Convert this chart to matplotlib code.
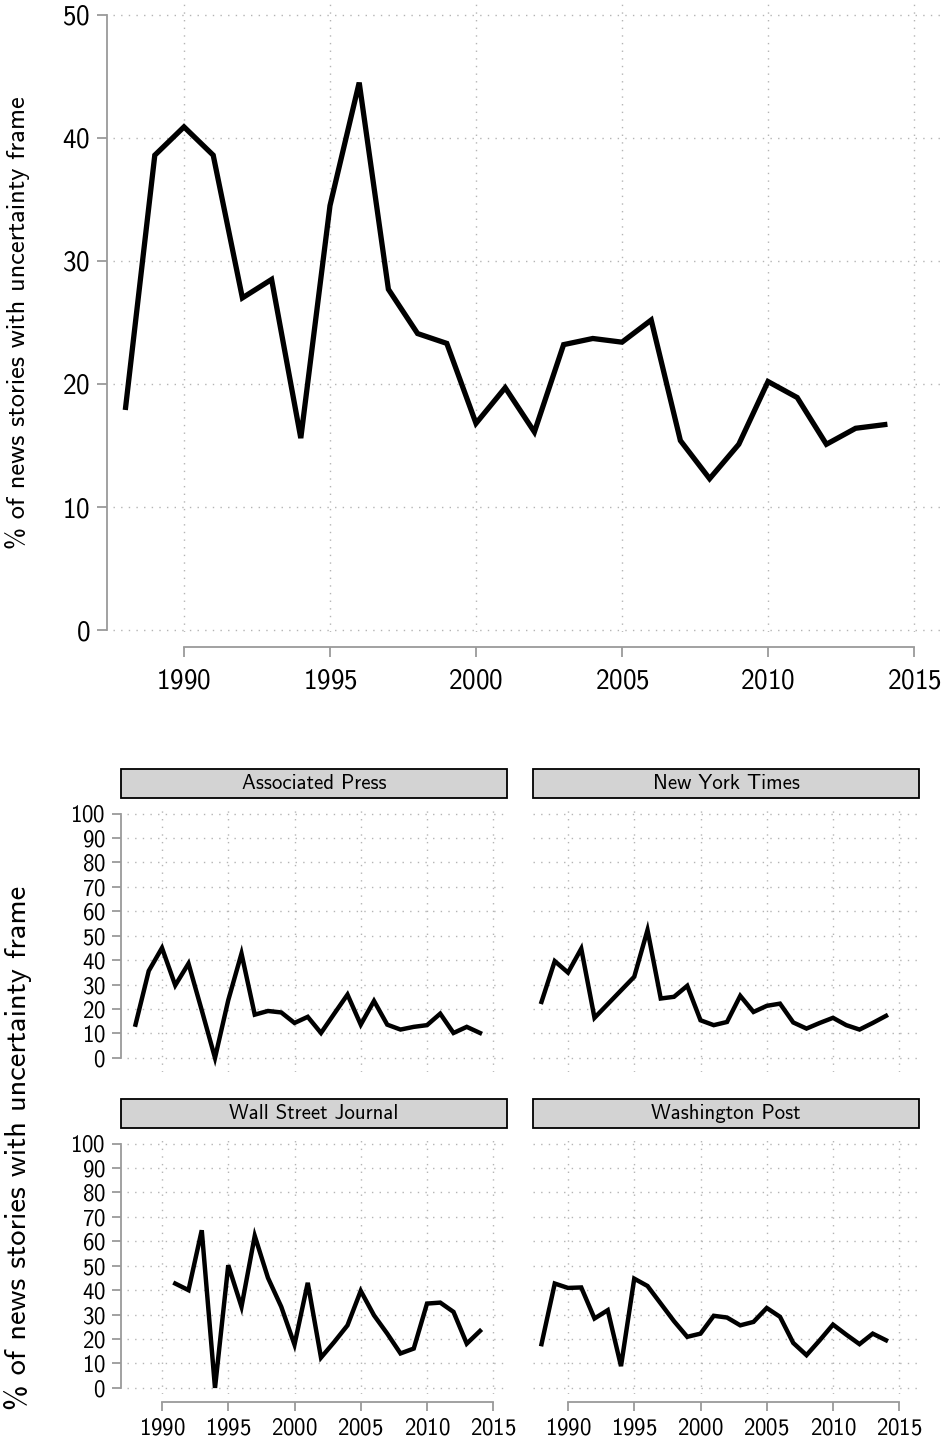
import matplotlib
matplotlib.use("Agg")
import matplotlib.pyplot as plt
from matplotlib.patches import Rectangle

plt.rcParams['font.family'] = ['cmss10', 'DejaVu Sans']
plt.rcParams['axes.formatter.use_mathtext'] = True

# ---------------- data ----------------
years = list(range(1988, 2015))
overall = [18.1, 38.6, 40.9, 38.6, 27.0, 28.5, 15.6, 34.5, 44.5, 27.7,
           24.1, 23.3, 16.8, 19.7, 16.1, 23.2, 23.7, 23.4, 25.2, 15.4,
           12.3, 15.1, 20.2, 18.9, 15.1, 16.4, 16.7]

ap_years = list(range(1988, 2015))
ap = [13.6, 35.6, 45.0, 29.7, 38.6, 19.5, 0.0, 23.6, 42.7, 17.7,
      19.2, 18.6, 14.3, 16.8, 10.2, 18.1, 25.9, 13.6, 23.3, 13.6,
      11.6, 12.7, 13.4, 18.1, 10.2, 12.7, 10.2]

nyt_years = list(range(1988, 2015))
nyt = [22.9, 39.6, 34.9, 44.7, 16.4, 22.0, 27.6, 33.2, 52.3, 24.3,
       25.0, 29.5, 15.4, 13.4, 14.7, 25.4, 18.8, 21.3, 22.2, 14.5,
       12.0, 14.3, 16.4, 13.4, 11.6, 14.3, 17.2]

wsj_years = list(range(1991, 2015))
wsj = [42.7, 40.0, 64.5, 0.0, 50.2, 33.2, 62.2, 45.0, 33.2, 17.7,
       43.0, 12.4, 18.8, 25.6, 39.7, 29.7, 22.2, 14.1, 16.1, 34.5,
       34.9, 31.1, 18.1, 23.3]

wp_years = list(range(1988, 2015))
wp = [17.9, 42.7, 40.9, 41.1, 28.4, 31.8, 8.9, 44.7, 41.7, 34.5,
      27.3, 20.9, 22.2, 29.5, 28.8, 25.6, 27.0, 32.7, 29.1, 18.4,
      13.4, 19.5, 25.9, 21.8, 17.9, 22.2, 19.5]

panel_titles = ["Associated Press", "New York Times", "Wall Street Journal", "Washington Post"]
ylabel = "% of news stories with uncertainty frame"
xticks = [1990, 1995, 2000, 2005, 2010, 2015]
top_yticks = [0, 10, 20, 30, 40, 50]
panel_yticks = list(range(0, 101, 10))

# ---------------- layout helpers ----------------
W, H = 945, 1444
DPI = 100
fig = plt.figure(figsize=(W / DPI, H / DPI), dpi=DPI)
fig.patch.set_facecolor("white")

def px2pt(p):
    return p * 72.0 / DPI

def add_ax(x0, y0, x1, y1):
    return fig.add_axes([x0 / W, 1 - y1 / H, (x1 - x0) / W, (y1 - y0) / H])

GRID_C = "#b4b4b4"
SPINE_C = "#9a9a9a"

def style_grid(ax):
    ax.grid(True, color=GRID_C, linestyle=(0, (1, 4.5)), linewidth=1.0)
    ax.set_axisbelow(True)

# ---------------- top chart ----------------
ax = add_ax(113, 4, 943, 632)
ax.plot(years, overall, color="black", linewidth=3.8, solid_joinstyle="miter")
px_per_yr = 29.2
ax.set_xlim(1990 - (184 - 113) / px_per_yr, 1990 + (943 - 184) / px_per_yr)
ax.set_ylim(-0.16, 50.89)
ax.set_xticks(xticks)
ax.set_yticks(top_yticks)
style_grid(ax)
for s in ["top", "right"]:
    ax.spines[s].set_visible(False)
ax.spines["left"].set_position(("outward", px2pt(6)))
ax.spines["bottom"].set_position(("outward", px2pt(15)))
ax.spines["left"].set_bounds(0, 50)
ax.spines["bottom"].set_bounds(1990, 2015)
for s in ["left", "bottom"]:
    ax.spines[s].set_color(SPINE_C)
    ax.spines[s].set_linewidth(1.3)
ax.tick_params(axis="both", colors=SPINE_C, labelcolor="black", labelsize=19.5,
               length=px2pt(10), width=1.3, direction="out")
ax.tick_params(axis="x", pad=8)
ax.tick_params(axis="y", pad=4.8)
fig.text(18 / W, 1 - 323 / H, ylabel, rotation=90, ha="center", va="center", fontsize=19)

# ---------------- panels ----------------
panels = [
    (ap_years, ap, 127, 506, 805, 1072, 121, 769, 798, True, False),
    (nyt_years, nyt, 533, 918, 805, 1072, 533, 769, 798, False, False),
    (wsj_years, wsj, 127, 506, 1135, 1394, 121, 1099, 1128, True, True),
    (wp_years, wp, 533, 918, 1135, 1394, 533, 1099, 1128, False, True),
]

for (yrs, vals, x0, x1, y0, y1, sx0, st0, st1, show_y, show_x), title in zip(panels, panel_titles):
    a = add_ax(x0, y0, x1, y1)
    a.plot(yrs, vals, color="black", linewidth=3.2, solid_joinstyle="miter")
    # x mapping: 1990 at +35px of left edge, 13.25 px/yr
    left = 1990 - 35 / 13.25
    a.set_xlim(left, left + (x1 - x0) / 13.25)
    # y mapping: 2.444 px per unit, 100 at y0+8.5
    top = 100 + 8.5 / 2.444
    a.set_ylim(top - (y1 - y0) / 2.444, top)
    a.set_xticks(xticks)
    a.set_yticks(panel_yticks)
    style_grid(a)
    for s in ["top", "right"]:
        a.spines[s].set_visible(False)
    if show_y:
        a.spines["left"].set_position(("outward", px2pt(6)))
        a.spines["left"].set_bounds(0, 100)
        a.spines["left"].set_color(SPINE_C)
        a.spines["left"].set_linewidth(1.3)
    else:
        a.spines["left"].set_visible(False)
    if show_x:
        a.spines["bottom"].set_position(("outward", px2pt(8)))
        a.spines["bottom"].set_bounds(1990, 2015)
        a.spines["bottom"].set_color(SPINE_C)
        a.spines["bottom"].set_linewidth(1.3)
    else:
        a.spines["bottom"].set_visible(False)
    a.tick_params(axis="both", colors=SPINE_C, labelcolor="black", labelsize=16.5,
                  length=px2pt(9), width=1.3, direction="out")
    a.tick_params(axis="y", pad=4.5, left=show_y, labelleft=show_y)
    a.tick_params(axis="x", pad=5, bottom=show_x, labelbottom=show_x)
    # strip
    sw = 386
    rect = Rectangle((sx0 / W, 1 - st1 / H), sw / W, (st1 - st0) / H,
                     transform=fig.transFigure, facecolor="#d3d3d3",
                     edgecolor="black", linewidth=1.3)
    fig.patches.append(rect)
    fig.text((sx0 + sw / 2) / W, 1 - (st0 + st1) / 2 / H, title,
             ha="center", va="center", fontsize=15)

fig.text(18 / W, 1 - 1148 / H, ylabel, rotation=90, ha="center", va="center", fontsize=22)

fig.savefig("out.png", dpi=DPI)
